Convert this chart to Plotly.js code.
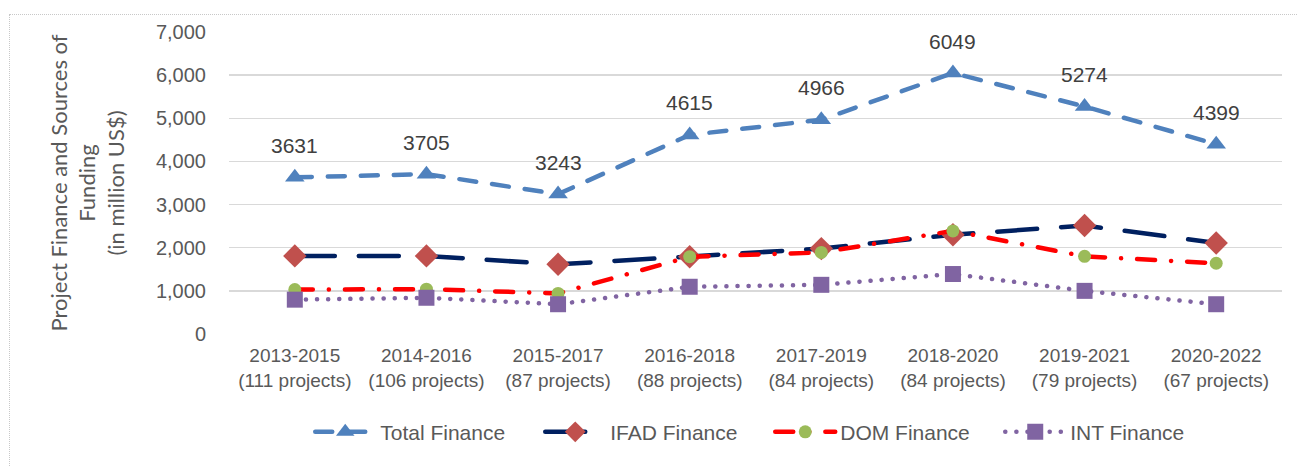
<!DOCTYPE html>
<html>
<head>
<meta charset="utf-8">
<script src="https://cdn.plot.ly/plotly-3.0.1.min.js"></script>
<style>
  html, body { margin: 0; padding: 0; background: #fff; overflow: hidden; }
  #wrap { position: relative; width: 1298px; height: 466px; }
  #frame { position: absolute; left: 9px; top: 14px; width: 1300px; height: 470px; border: 1px dotted #c8c8c8; box-sizing: border-box; pointer-events: none; }
  #chart { position: absolute; left: 0; top: 0; width: 1298px; height: 466px; }
  .js-line { stroke-linecap: round; }
</style>
</head>
<body>
<div id="wrap">
  <div id="chart"></div>
  <div id="frame"></div>
</div>
<script>
const periods = ["2013-2015", "2014-2016", "2015-2017", "2016-2018", "2017-2019", "2018-2020", "2019-2021", "2020-2022"];
const projectCounts = ["111 projects", "106 projects", "87 projects", "88 projects", "84 projects", "84 projects", "79 projects", "67 projects"];
const categories = periods.map((p, i) => p + "<br>(" + projectCounts[i] + ")");

const totalFinance = [3631, 3705, 3243, 4615, 4966, 6049, 5274, 4399];
const ifadFinance = [1810, 1810, 1615, 1790, 1980, 2300, 2515, 2110];
const domFinance = [1030, 1040, 940, 1790, 1890, 2390, 1800, 1640];
const intFinance = [796, 840, 690, 1095, 1140, 1390, 1000, 690];

const traces = [
  {
    name: "Total Finance", x: categories, y: totalFinance, type: "scatter", mode: "lines+markers",
    line: { color: "#4F81BD", width: 4.5, dash: "17px,16px" },
    marker: { symbol: "triangle-up", size: 17, color: "#4F81BD" }
  },
  {
    name: "IFAD Finance", x: categories, y: ifadFinance, type: "scatter", mode: "lines+markers",
    line: { color: "#002060", width: 4.5, dash: "40px,24px" },
    marker: { symbol: "diamond", size: 18, color: "#C0504D" }
  },
  {
    name: "DOM Finance", x: categories, y: domFinance, type: "scatter", mode: "lines+markers",
    line: { color: "#FF0000", width: 4.5, dash: "18px,16px,0.1px,16px" },
    marker: { symbol: "circle", size: 13, color: "#9BBB59" }
  },
  {
    name: "INT Finance", x: categories, y: intFinance, type: "scatter", mode: "lines+markers",
    line: { color: "#8064A2", width: 4.5, dash: "0.1px,11px" },
    marker: { symbol: "square", size: 16, color: "#8064A2" }
  }
];

const labelAnnotations = totalFinance.map((v, i) => ({
  x: categories[i], y: v, xref: "x", yref: "y", text: String(v),
  showarrow: false, yshift: 32, font: { family: "Liberation Sans, Arial, sans-serif", size: 21, color: "#404040" }
}));

const layout = {
  width: 1298, height: 466,
  margin: { l: 229, r: 16, t: 32, b: 132 },
  paper_bgcolor: "#ffffff", plot_bgcolor: "#ffffff",
  showlegend: true,
  legend: {
    orientation: "h", x: 0.514, xanchor: "center", y: -0.325, yanchor: "middle",
    font: { family: "Liberation Sans, Arial, sans-serif", size: 21, color: "#595959" },
    itemwidth: 60, entrywidth: 155, tracegroupgap: 0
  },
  xaxis: {
    type: "category", range: [-0.5, 7.5], showgrid: false, zeroline: false, showline: false,
    ticks: "", tickfont: { family: "Liberation Sans, Arial, sans-serif", size: 19, color: "#595959" },
    ticklabelstandoff: 8, fixedrange: true
  },
  yaxis: {
    range: [0, 7000], dtick: 1000, tickformat: ",d", showgrid: true, gridcolor: "#d9d9d9", gridwidth: 1.5,
    zeroline: false, showline: false, ticks: "",
    tickfont: { family: "Liberation Sans, Arial, sans-serif", size: 20, color: "#595959" },
    ticklabelstandoff: 22,
    title: {
      text: "Project Finance and Sources of<br>Funding<br>(in million US$)",
      font: { family: "Lato, Open Sans, sans-serif", size: 22, color: "#595959" },
      standoff: 25
    },
    fixedrange: true
  },
  annotations: labelAnnotations
};

Plotly.newPlot("chart", traces, layout, { displayModeBar: false, staticPlot: true });
</script>
</body>
</html>
